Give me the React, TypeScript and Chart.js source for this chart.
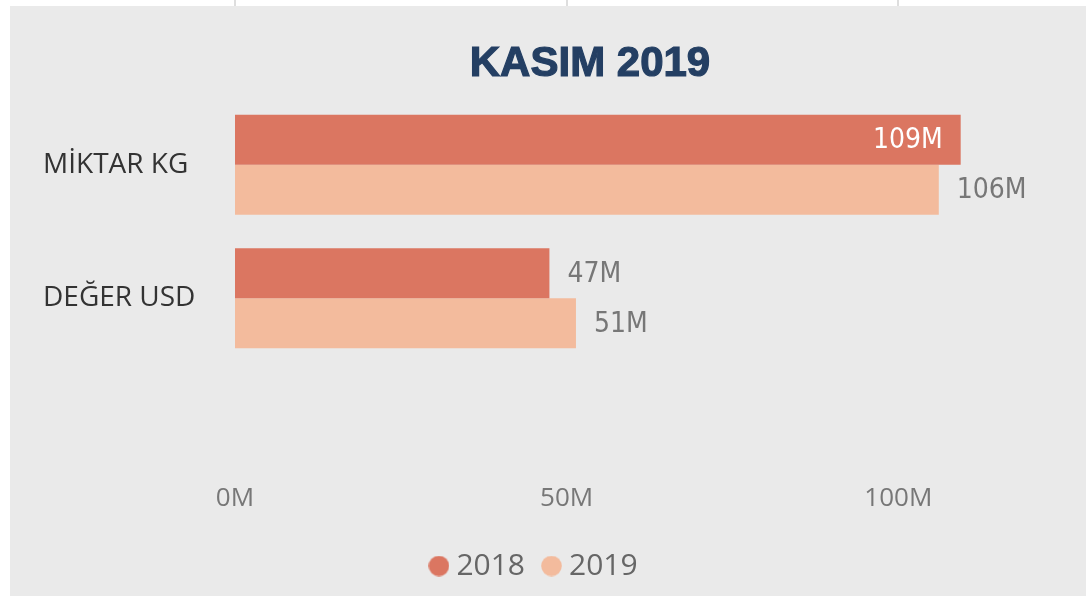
import React, { useEffect, useRef } from 'react';
import { Chart, registerables } from 'chart.js';

Chart.register(...registerables);

const categories = ['MİKTAR KG', 'DEĞER USD'];
const seriesNames = ['2018', '2019'];
const values2018 = [109.4, 47.4];
const values2019 = [106.1, 51.4];
const tickValues = [0, 50, 100];
const chartTitle = 'KASIM 2019';

const colors = ['#DB7661', '#F3BB9D'];
const W = 1086;
const H = 596;

function makeDot(color: string) {
  const c = document.createElement('canvas');
  c.width = 21;
  c.height = 21;
  const g = c.getContext('2d')!;
  g.fillStyle = color;
  g.beginPath();
  g.arc(10.5, 10.5, 10.3, 0, Math.PI * 2);
  g.fill();
  return c;
}

const backgroundPlugin = {
  id: 'panelBackground',
  beforeDraw(chart: any) {
    const { ctx } = chart;
    ctx.save();
    ctx.fillStyle = '#ffffff';
    ctx.fillRect(0, 0, chart.width, chart.height);
    const xs = chart.scales.x;
    ctx.strokeStyle = '#dedede';
    ctx.lineWidth = 2;
    tickValues.forEach((v) => {
      const px = Math.round(xs.getPixelForValue(v));
      ctx.beginPath();
      ctx.moveTo(px, 0);
      ctx.lineTo(px, 6);
      ctx.stroke();
    });
    ctx.fillStyle = '#EAEAEA';
    ctx.fillRect(10, 6, chart.width - 10, chart.height - 6);
    ctx.restore();
  },
};

const titlePlugin = {
  id: 'customTitle',
  afterDraw(chart: any) {
    const { ctx } = chart;
    ctx.save();
    ctx.fillStyle = '#243F63';
    ctx.strokeStyle = '#243F63';
    ctx.lineWidth = 1.2;
    ctx.font = 'bold 42px "Liberation Sans", Arial, sans-serif';
    ctx.textAlign = 'center';
    ctx.textBaseline = 'middle';
    ctx.fillText(chartTitle, 590, 64);
    ctx.strokeText(chartTitle, 590, 64);
    ctx.restore();
  },
};

const dataLabelPlugin = {
  id: 'dataLabels',
  afterDatasetsDraw(chart: any) {
    const { ctx, chartArea } = chart;
    ctx.save();
    ctx.font = '28px "DejaVu Sans Condensed", "DejaVu Sans", sans-serif';
    ctx.textBaseline = 'middle';
    chart.data.datasets.forEach((ds: any, di: number) => {
      const meta = chart.getDatasetMeta(di);
      meta.data.forEach((bar: any, i: number) => {
        const v = ds.data[i];
        const text = Math.round(v) + 'M';
        const tw = ctx.measureText(text).width;
        const gap = 18;
        if (bar.x + gap + tw > chartArea.right) {
          ctx.fillStyle = '#ffffff';
          ctx.textAlign = 'right';
          ctx.fillText(text, bar.x - gap, bar.y + 1);
        } else {
          ctx.fillStyle = '#777777';
          ctx.textAlign = 'left';
          ctx.fillText(text, bar.x + gap, bar.y + 1);
        }
      });
    });
    ctx.restore();
  },
};

export default function App() {
  const ref = useRef<HTMLCanvasElement | null>(null);

  useEffect(() => {
    if (!ref.current) return;
    const dots = colors.map(makeDot);
    const chart = new Chart(ref.current, {
      type: 'bar',
      data: {
        labels: categories,
        datasets: [
          {
            label: seriesNames[0],
            data: values2018,
            backgroundColor: colors[0],
            borderWidth: 0,
            barPercentage: 1,
            categoryPercentage: 0.75,
          },
          {
            label: seriesNames[1],
            data: values2019,
            backgroundColor: colors[1],
            borderWidth: 0,
            barPercentage: 1,
            categoryPercentage: 0.75,
          },
        ],
      },
      options: {
        indexAxis: 'y',
        responsive: false,
        animation: false,
        layout: { padding: { top: 98, left: 43, right: 55, bottom: 5 } },
        scales: {
          x: {
            type: 'linear',
            min: 0,
            max: 120,
            position: 'bottom',
            grid: { display: false, drawTicks: false },
            border: { display: false },
            ticks: {
              stepSize: 50,
              includeBounds: false,
              callback: (v: any) => v + 'M',
              color: '#777777',
              font: { family: '"Open Sans", sans-serif', size: 26 },
              padding: 118,
              maxRotation: 0,
            },
            afterFit(s: any) {
              s.height = 162;
            },
          },
          y: {
            type: 'category',
            grid: { display: false, drawTicks: false },
            border: { display: false },
            ticks: {
              crossAlign: 'far',
              color: '#333333',
              font: { family: '"Open Sans", sans-serif', size: 28 },
              padding: 0,
            },
            afterFit(s: any) {
              s.width = 192;
            },
          },
        },
        plugins: {
          title: { display: false },
          tooltip: { enabled: false },
          legend: {
            display: true,
            position: 'bottom',
            labels: {
              usePointStyle: true,
              boxHeight: 14.6,
              pointStyleWidth: 5,
              color: '#666666',
              font: { family: '"Open Sans", sans-serif', size: 30 },
              padding: 24,
              generateLabels(ch: any) {
                const base = (Chart as any).defaults.plugins.legend.labels.generateLabels(ch);
                return base.map((item: any, i: number) => ({ ...item, pointStyle: dots[i % dots.length] }));
              },
            },
          },
        },
      },
      plugins: [backgroundPlugin, titlePlugin, dataLabelPlugin],
    } as any);
    return () => chart.destroy();
  }, []);

  return (
    <div style={{ position: 'absolute', left: 0, top: 0, width: W, height: H }}>
      <canvas ref={ref} width={W} height={H} style={{ display: 'block', width: W, height: H }} />
    </div>
  );
}
